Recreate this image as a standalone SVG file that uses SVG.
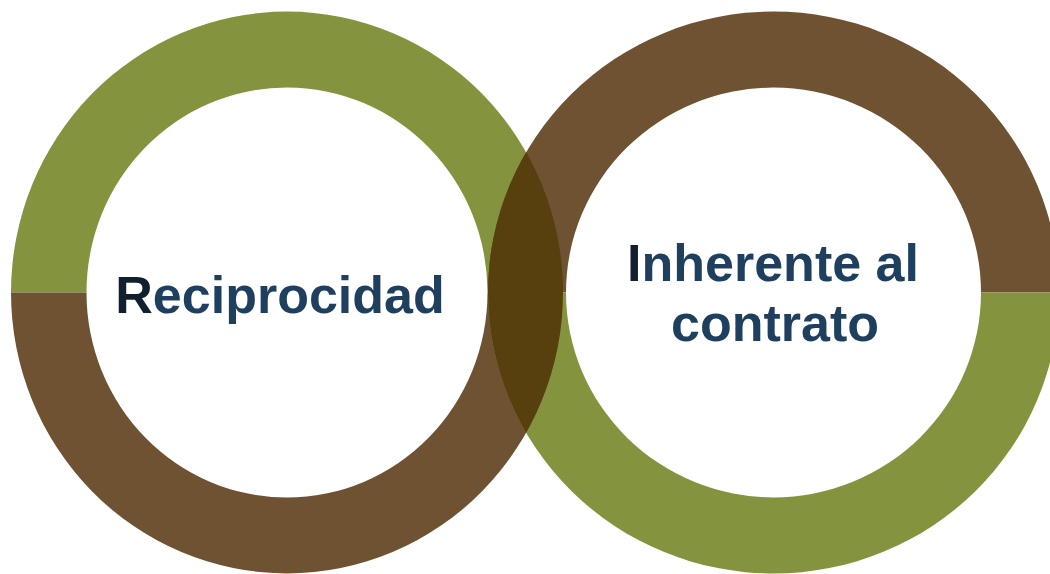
<svg xmlns="http://www.w3.org/2000/svg" width="1050" height="574" viewBox="0 0 1050 574">
  <style>
    .green { fill: #84943e; }
    .brown { fill: #6f5231; }
    .overlap { fill: #573f0e; }
    .label { font-family: "Liberation Sans", Arial, sans-serif; font-weight: bold; font-size: 52px; fill: #1f3f5e; text-anchor: middle; }
    .first { fill: #11202e; }
  </style>
  <defs>
    <clipPath id="leftRingClip">
      <path clip-rule="evenodd" d="M 11 292.5 A 276 281 0 1 1 563 292.5 A 276 281 0 1 1 11 292.5 Z M 86.5 292.5 A 200.5 205 0 1 0 487.5 292.5 A 200.5 205 0 1 0 86.5 292.5 Z"/>
    </clipPath>
  </defs>
  <rect width="1050" height="574" fill="#ffffff"/>
  <g id="ring-left">
    <path class="green" d="M 11 292.5 A 276 281 0 0 1 563 292.5 L 487.5 292.5 A 200.5 205 0 0 0 86.5 292.5 Z"/>
    <path class="brown" d="M 11 292.5 A 276 281 0 0 0 563 292.5 L 487.5 292.5 A 200.5 205 0 0 1 86.5 292.5 Z"/>
  </g>
  <g id="ring-right">
    <path class="brown" d="M 488 292.5 A 285.5 281 0 0 1 1059 292.5 L 981 292.5 A 207.5 205 0 0 0 566 292.5 Z"/>
    <path class="green" d="M 488 292.5 A 285.5 281 0 0 0 1059 292.5 L 981 292.5 A 207.5 205 0 0 1 566 292.5 Z"/>
  </g>
  <g id="overlap" clip-path="url(#leftRingClip)">
    <path class="overlap" fill-rule="evenodd" d="M 488 292.5 A 285.5 281 0 1 1 1059 292.5 A 285.5 281 0 1 1 488 292.5 Z M 566 292.5 A 207.5 205 0 1 0 981 292.5 A 207.5 205 0 1 0 566 292.5 Z"/>
  </g>
  <g id="node-reciprocidad">
    <text class="label" x="280" y="313"><tspan class="first">R</tspan>eciprocidad</text>
  </g>
  <g id="node-inherente">
    <text class="label" x="773" y="281"><tspan class="first">I</tspan>nherente al</text>
    <text class="label" x="775" y="341">contrato</text>
  </g>
</svg>
